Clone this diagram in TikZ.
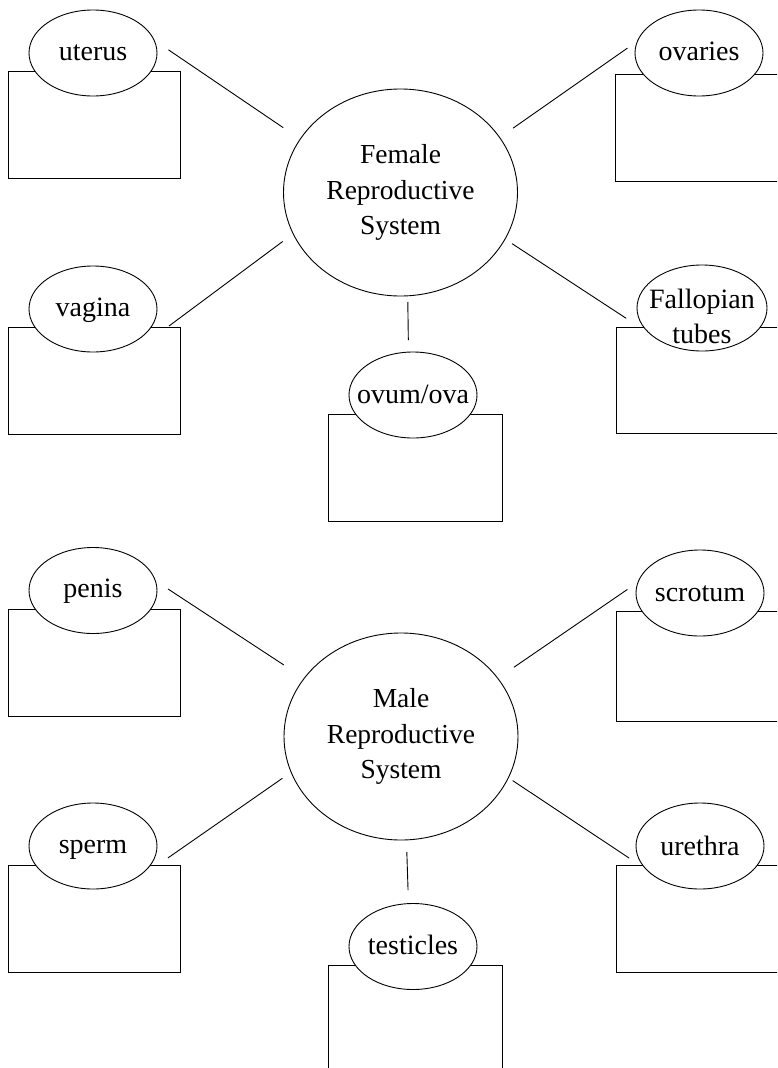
\documentclass[tikz,border=0pt]{standalone}
\usepackage{fontspec}
\setmainfont{Liberation Serif}[FakeBold=0.7,AutoFakeBold=0]
\usetikzlibrary{shapes.geometric}
\begin{document}
\begin{tikzpicture}[x=1pt,y=-1pt,
  bubble/.style={ellipse, draw, fill=white, line width=0.9pt, minimum width=128pt, minimum height=86pt, inner sep=0pt, outer sep=0pt},
  hub/.style={ellipse, draw, line width=0.9pt, minimum width=234pt, minimum height=207pt, inner sep=0pt, outer sep=0pt, align=center, font=\fontsize{27.5}{35.5}\selectfont\bfseries},
  card/.style={rectangle, draw, line width=1pt, inner sep=0pt, outer sep=0pt},
  lbl/.style={font=\fontsize{28}{35}\selectfont\bfseries, inner sep=0pt, anchor=base},
  link/.style={draw, line width=0.9pt}]
\useasboundingbox (0,0) rectangle (777,1068);
\clip (0,0) rectangle (777,1068);
\fill[white] (0,0) rectangle (777,1068);

% boxes
\node[card, minimum width=172pt, minimum height=107pt] (uterusB) at (94,124.5) {};
\node[card, minimum width=185pt, minimum height=107pt] (ovariesB) at (707.5,127.5) {};
\node[card, minimum width=172pt, minimum height=107pt] (vaginaB) at (94,380.5) {};
\node[card, minimum width=184pt, minimum height=106pt] (fallopB) at (708,380) {};
\node[card, minimum width=174pt, minimum height=107pt] (ovumB) at (415,467.5) {};
\node[card, minimum width=172pt, minimum height=107pt] (penisB) at (94,662.5) {};
\node[card, minimum width=184pt, minimum height=110pt] (scrotumB) at (708,666) {};
\node[card, minimum width=172pt, minimum height=107pt] (spermB) at (94,918.5) {};
\node[card, minimum width=184pt, minimum height=107pt] (urethraB) at (708,918.5) {};
\node[card, minimum width=174pt, minimum height=115pt] (testiclesB) at (415,1022.5) {};

% hubs
\node[hub] (fem) at (400.5,192.5) {Female\\Reproductive\\System};
\node[hub] (male) at (401,736.5) {Male\\Reproductive\\System};

% bubbles
\node[bubble] (uterus) at (93,53) {};
\node[bubble] (ovaries) at (699,53) {};
\node[bubble] (vagina) at (93,309) {};
\node[bubble, minimum width=130pt] (fallop) at (702,308) {};
\node[bubble] (ovum) at (413,395) {};
\node[bubble] (penis) at (93,590.5) {};
\node[bubble] (scrotum) at (700,593) {};
\node[bubble] (sperm) at (93,846) {};
\node[bubble] (urethra) at (700,846) {};
\node[bubble] (testicles) at (413,946.5) {};

% labels
\node[lbl] (uterusT) at (93,60) {uterus};
\node[lbl] (ovariesT) at (699,60) {ovaries};
\node[lbl] (vaginaT) at (93,316) {vagina};
\node[lbl, anchor=center, align=center] (fallopT) at (702,316) {Fallopian\\tubes};
\node[lbl] (ovumT) at (413,403) {ovum/ova};
\node[lbl] (penisT) at (93,597) {penis};
\node[lbl] (scrotumT) at (700,601) {scrotum};
\node[lbl] (spermT) at (93,853) {sperm};
\node[lbl] (urethraT) at (700,855) {urethra};
\node[lbl] (testiclesT) at (413,954) {testicles};

% connectors
\draw[link, shorten <=20.5pt, shorten >=17.5pt] (fem.152.26) -- (uterus.12.97);
\draw[link, shorten <=16.4pt, shorten >=12.3pt] (fem.29.12) -- (ovaries.169.9);
\draw[link, shorten <=13pt, shorten >=1.7pt] (fem.201.35) -- (vaginaB.36.39);
\draw[link, shorten <=8.45pt, shorten >=29pt] (fem.336.98) -- (fallop.207.15);
\draw[link, shorten <=6.2pt, shorten >=12.1pt] (fem.274.15) -- (ovum.96.65);
\draw[link, shorten <=24.4pt, shorten >=15.3pt] (male.149.78) -- (penis.9.16);
\draw[link, shorten <=19.6pt, shorten >=13pt] (male.31.93) -- (scrotum.170.66);
\draw[link, shorten <=10.7pt, shorten >=12.4pt] (male.198.96) -- (spermB.40.02);
\draw[link, shorten <=5.25pt, shorten >=12.4pt] (male.339.37) -- (urethraB.142.93);
\draw[link, shorten <=12.2pt, shorten >=13.6pt] (male.273.88) -- (testicles.96.65);
\end{tikzpicture}
\end{document}
